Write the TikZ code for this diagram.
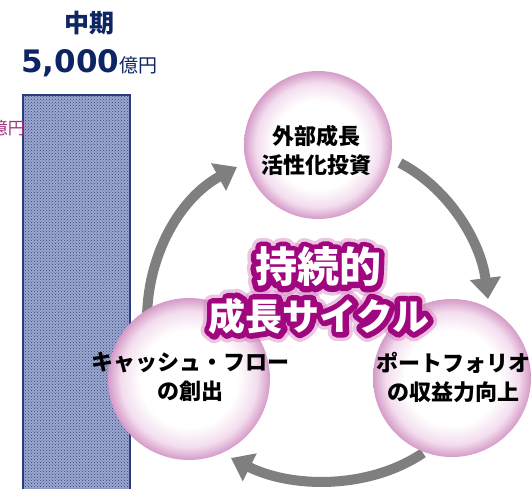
\documentclass[tikz,border=0pt]{standalone}
\usepackage{fontspec}
\newfontfamily\cjk{Noto Sans CJK JP}
\newfontfamily\verd{DejaVu Sans}
\usetikzlibrary{arrows.meta,patterns,calc}
\definecolor{navy}{HTML}{0D2563}
\definecolor{barfill}{HTML}{9CA7D0}
\definecolor{barline}{HTML}{2C3C7C}
\definecolor{barpat}{HTML}{33447E}
\definecolor{leftmag}{HTML}{A0307E}
\definecolor{arrowgray}{HTML}{7F7F7F}
\definecolor{pinkmid}{HTML}{F3DDEE}
\definecolor{pinkrim}{HTML}{D59BC8}
\definecolor{glowin}{HTML}{A0067E}
\definecolor{glowout}{HTML}{D47FC2}
\pgfdeclareradialshading{ballpink}{\pgfpoint{0bp}{0bp}}{color(0bp)=(white); color(15bp)=(white); color(21bp)=(pinkmid); color(25bp)=(pinkrim); color(50bp)=(pinkrim)}
\tikzset{
  cyclearrow/.style={draw=arrowgray, line width=10pt, -{Triangle[length=21pt,width=30pt]}},
  ball/.style={circle, shading=ballpink, draw=none, inner sep=0pt},
  balltext/.style={font=\cjk\bfseries\fontsize{22}{29}\selectfont, align=center, text=black},
  bigA/.style={font=\cjk\bfseries\fontsize{42}{44}\selectfont},
  bigB/.style={font=\cjk\bfseries\fontsize{37}{40}\selectfont},
}
% stroked text: #1 = line width (bp)
\newcommand{\strk}[2]{\special{pdf:literal direct 2 Tr #1 w 1 j 1 J}#2\special{pdf:literal direct 0 Tr 1 w 0 j 0 J}}
\begin{document}
\begin{tikzpicture}[x=1pt,y=-1pt]
\useasboundingbox (0,0) rectangle (532,488);
\clip (0,0) rectangle (532,488);
% bar
\fill[barfill] (23,95) rectangle (130,500);
\fill[pattern=crosshatch dots, pattern color=barpat] (23,95) rectangle (130,500);
\draw[barline, line width=1.2pt] (23,500) -- (23,95) -- (130,95) -- (130,500);
% header texts
\node[text=navy, font=\cjk\bfseries\fontsize{25}{27}\selectfont] (mid) at (89,23) {中期};
\node[text=navy, anchor=base west, inner sep=0pt] (amount) at (21,72) {{\verd\bfseries\fontsize{31}{32}\selectfont 5,000}{\cjk\fontsize{19}{20}\selectfont 億円}};
\node[text=leftmag, anchor=east, inner sep=0pt, font=\cjk\fontsize{17}{18}\selectfont] (leftunit) at (25,128) {億円};
% arrow coordinates
\coordinate (a1s) at (147,320);
\coordinate (a1e) at (237,167);
\coordinate (a2s) at (400,163);
\coordinate (a2e) at (488,299);
\coordinate (a3s) at (423,453);
\coordinate (a3e) at (231,458);
\draw[cyclearrow] (a1s) .. controls (147,255) and (180,198) .. (a1e);
\draw[cyclearrow] (a2s) .. controls (450,189) and (481,243) .. (a2e);
\draw[cyclearrow] (a3s) .. controls (368,490) and (291,488) .. (a3e);
% circles
\node[ball, minimum size=148pt] (top) at (318,145) {};
\node[ball, minimum size=162pt] (bl) at (189,379) {};
\node[ball, minimum size=158pt] (br) at (452,378) {};
\node[balltext] (toptext) at (316,150) {外部成長\\活性化投資};
\node[balltext] (bltext) at (190,377) {キャッシュ・フロー\\の創出};
\node[balltext] (brtext) at (453,377) {ポートフォリオ\\の収益力向上};
% center glowing text
\coordinate (c1) at (318,267);
\coordinate (c2) at (319,316);
\node[bigA, text=glowout, opacity=0.45] (c1o) at (c1) {\strk{18}{持続的}};
\node[bigB, text=glowout, opacity=0.45] (c2o) at (c2) {\strk{18}{成長サイクル}};
\node[bigA, text=glowin] (c1m) at (c1) {\strk{11}{持続的}};
\node[bigB, text=glowin] (c2m) at (c2) {\strk{11}{成長サイクル}};
\node[bigA, text=white] (c1t) at (c1) {持続的};
\node[bigB, text=white] (c2t) at (c2) {成長サイクル};
\end{tikzpicture}
\end{document}
